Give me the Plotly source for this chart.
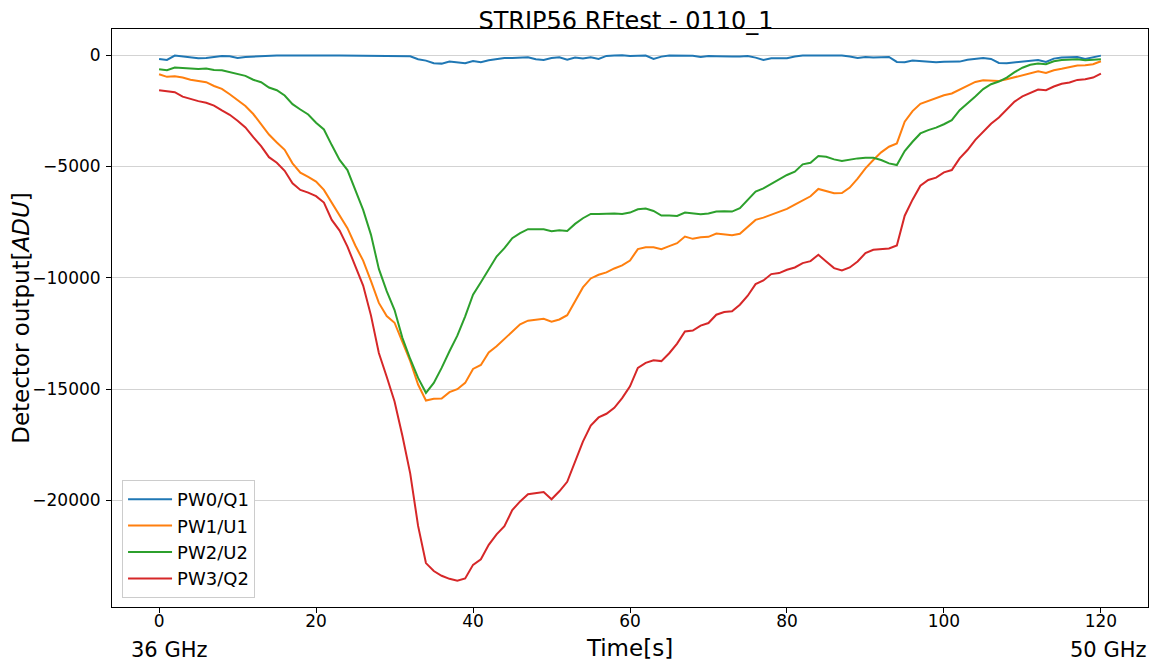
import plotly.graph_objects as go

time_s = list(range(0, 121))

pw0_q1 = [-165, -210, -15, -60, -105, -130, -120, -80, -30, -40,
          -120, -75, -60, -15, -10, -5, -5, -10, -5, -5,
          -5, -5, -5, -5, -10, -5, -10, -5, -5, -5,
          -10, -20, -45, -180, -240, -360, -375, -285, -330, -360,
          -255, -315, -225, -165, -120, -120, -100, -90, -180, -210,
          -120, -90, -200, -100, -150, -90, -165, -30, -10, 0,
          -30, -20, -15, -165, -60, -15, -15, -15, -20, -75,
          -30, -40, -60, -60, -60, -30, -105, -210, -135, -150,
          -135, -60, -15, -10, -10, -10, -10, -15, -60, -120,
          -75, -105, -90, -75, -300, -315, -240, -255, -290, -315,
          -290, -285, -285, -200, -165, -120, -165, -345, -360, -330,
          -300, -250, -210, -300, -150, -105, -90, -75, -165, -105,
          -15]

pw1_u1 = [-850, -970, -940, -1000, -1100, -1170, -1210, -1380, -1510, -1750,
          -2010, -2280, -2640, -3080, -3560, -3916, -4250, -4858, -5277, -5470,
          -5680, -6050, -6621, -7180, -7771, -8550, -9230, -10150, -11130, -11720,
          -12020, -12880, -13750, -14798, -15515, -15440, -15425, -15140, -15007, -14723,
          -14095, -13920, -13360, -13079, -12760, -12420, -12090, -11927, -11883, -11845,
          -11972, -11875, -11680, -11030, -10434, -10030, -9865, -9760, -9581, -9446,
          -9223, -8713, -8624, -8624, -8713, -8579, -8445, -8146, -8250, -8175,
          -8161, -8013, -8057, -8086, -8026, -7727, -7399, -7295, -7160, -7055,
          -6905, -6711, -6517, -6338, -6009, -6098, -6203, -6188, -5948, -5545,
          -5082, -4708, -4364, -4110, -3961, -2989, -2511, -2180, -2048, -1930,
          -1800, -1719, -1540, -1375, -1200, -1121, -1136, -1151, -1080, -990,
          -880, -807, -717, -792, -673, -610, -540, -463, -450, -404,
          -269]

pw2_u2 = [-628, -673, -553, -583, -613, -613, -598, -658, -673, -762,
          -867, -927, -1100, -1211, -1450, -1569, -1809, -2197, -2436, -2660,
          -3034, -3333, -4036, -4700, -5157, -6084, -6950, -8071, -9600, -10600,
          -11450, -12700, -13650, -14500, -15171, -14723, -14050, -13303, -12600, -11733,
          -10762, -10200, -9600, -9043, -8669, -8220, -7996, -7817, -7817, -7817,
          -7906, -7862, -7892, -7578, -7324, -7130, -7130, -7115, -7115, -7130,
          -7070, -6920, -6890, -6995, -7204, -7204, -7219, -7070, -7115, -7145,
          -7115, -7025, -7010, -7025, -6875, -6502, -6128, -5979, -5784, -5605,
          -5381, -5231, -4903, -4828, -4529, -4559, -4678, -4753, -4678, -4634,
          -4604, -4604, -4708, -4858, -4932, -4305, -3887, -3513, -3363, -3250,
          -3100, -2915, -2466, -2167, -1850, -1520, -1300, -1181, -1000, -760,
          -560, -430, -370, -404, -270, -210, -190, -180, -224, -200,
          -180]

pw3_q2 = [-1569, -1614, -1659, -1860, -1970, -2060, -2137, -2260, -2480, -2675,
          -2940, -3240, -3680, -4080, -4580, -4828, -5190, -5754, -6053, -6173,
          -6330, -6620, -7398, -7880, -8600, -9480, -10350, -11700, -13378, -14450,
          -15560, -17100, -18800, -21150, -22822, -23180, -23391, -23530, -23615, -23511,
          -22900, -22650, -22000, -21530, -21165, -20440, -20050, -19729, -19685, -19633,
          -19954, -19595, -19170, -18270, -17360, -16640, -16277, -16112, -15843, -15410,
          -14880, -14050, -13826, -13707, -13745, -13390, -12959, -12415, -12370, -12150,
          -12033, -11660, -11540, -11509, -11210, -10806, -10283, -10119, -9834, -9789,
          -9641, -9536, -9341, -9252, -8968, -9267, -9566, -9671, -9536, -9267,
          -8893, -8744, -8729, -8684, -8550, -7210, -6490, -5865, -5605, -5500,
          -5261, -5157, -4634, -4260, -3800, -3420, -3080, -2795, -2460, -2080,
          -1850, -1680, -1540, -1569, -1405, -1280, -1226, -1106, -1076, -1002,
          -822]

series_names = ["PW0/Q1", "PW1/U1", "PW2/U2", "PW3/Q2"]
series_values = [pw0_q1, pw1_u1, pw2_u2, pw3_q2]
series_colors = ["#1f77b4", "#ff7f0e", "#2ca02c", "#d62728"]

x_tick_vals = [0, 20, 40, 60, 80, 100, 120]
x_tick_text = ["0", "20", "40", "60", "80", "100", "120"]
y_tick_vals = [0, -5000, -10000, -15000, -20000]
y_tick_text = ["0", "\u22125000", "\u221210000", "\u221215000", "\u221220000"]

title_text = "STRIP56 RFtest - 0110_1"
x_title = "Time[s]"
y_title = "Detector output[<i>ADU</i>]"
left_label = "36 GHz"
right_label = "50 GHz"

FONT = "DejaVu Sans"

# The page body has an 8px default margin, so the figure is sized to fit
W, H = 1151, 655
PLOT_H = H - 21 - 56

fig = go.Figure()
for name, vals, col in zip(series_names, series_values, series_colors):
    fig.add_trace(go.Scatter(x=time_s, y=vals, mode="lines", name=name,
                             line=dict(color=col, width=2)))

# matplotlib-like 5% margins
all_y = [v for s in series_values for v in s]
ymin, ymax = min(all_y), max(all_y)
ypad = 0.05 * (ymax - ymin)
xmin, xmax = min(time_s), max(time_s)
xpad = 0.05 * (xmax - xmin)

fig.update_layout(
    width=W, height=H,
    margin=dict(l=104, r=11, t=21, b=56, autoexpand=False),
    paper_bgcolor="white", plot_bgcolor="white",
    font=dict(family=FONT, color="black", size=17),
    title=dict(text=title_text, x=618 / W, xanchor="center", y=1 - 13 / H,
               yanchor="middle", yref="container",
               font=dict(family=FONT, size=24, color="black")),
    showlegend=True,
    legend=dict(x=0.0097, y=0.0156, xanchor="left", yanchor="bottom",
                bgcolor="white", bordercolor="#cccccc", borderwidth=1,
                itemwidth=44,
                font=dict(family=FONT, size=18, color="black")),
)

fig.update_xaxes(range=[xmin - xpad, xmax + xpad], automargin=False,
                 tickvals=x_tick_vals, ticktext=x_tick_text,
                 ticks="outside", ticklen=5, tickwidth=1, tickcolor="black",
                 ticklabelstandoff=-6,
                 showgrid=False, zeroline=False,
                 showline=True, linecolor="black", linewidth=1, mirror=True,
                 tickfont=dict(family=FONT, size=17),
                 title=dict(text=x_title, standoff=9,
                            font=dict(family=FONT, size=23)))
fig.update_yaxes(range=[ymin - ypad, ymax + ypad], automargin=False,
                 tickvals=y_tick_vals, ticktext=y_tick_text,
                 ticks="outside", ticklen=5, tickwidth=1, tickcolor="black",
                 ticklabelstandoff=2,
                 showgrid=True, gridcolor="#d3d3d3", gridwidth=1, zeroline=False,
                 showline=True, linecolor="black", linewidth=1, mirror=True,
                 tickfont=dict(family=FONT, size=17),
                 title=dict(text=y_title, standoff=3,
                            font=dict(family=FONT, size=23)))

fig.add_annotation(text=left_label, x=1.2, xref="x", y=-43 / PLOT_H, yref="paper",
                   xanchor="center", yanchor="middle", showarrow=False,
                   font=dict(family=FONT, size=21, color="black"))
fig.add_annotation(text=right_label, x=120.9, xref="x", y=-43 / PLOT_H, yref="paper",
                   xanchor="center", yanchor="middle", showarrow=False,
                   font=dict(family=FONT, size=21, color="black"))

fig.write_html("out.html")
